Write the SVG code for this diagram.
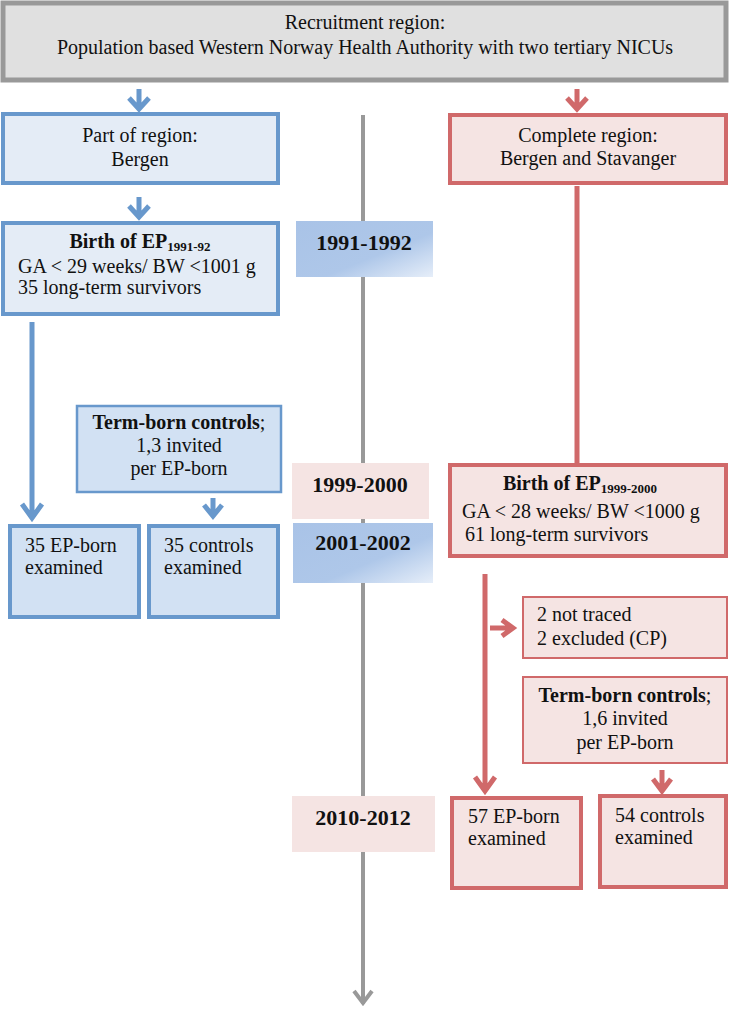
<svg xmlns="http://www.w3.org/2000/svg" width="730" height="1015" viewBox="0 0 730 1015" font-family="Liberation Serif, Times New Roman, serif">
<defs>
<linearGradient id="gb" x1="0" y1="0" x2="1" y2="1">
<stop offset="0" stop-color="#a9c3e7"/>
<stop offset="0.6" stop-color="#aec7e9"/>
<stop offset="1" stop-color="#e6eef9"/>
</linearGradient>
<style>
text{font-size:20px;fill:#111}
.c{text-anchor:middle}
.b{font-weight:bold}
.y{font-weight:bold;font-size:22px;text-anchor:middle}
.bl{fill:#e4ecf6;stroke:#6898cc;stroke-width:4}
.bl2{fill:#d2e1f3;stroke:#6898cc;stroke-width:4}
.bl3{fill:#d2e1f3;stroke:#6898cc;stroke-width:2.5}
.rd{fill:#f5e4e3;stroke:#d0696a;stroke-width:4}
.rd2{fill:#f5e4e3;stroke:#d0696a;stroke-width:2}
.ab{fill:none;stroke:#6898cc;stroke-width:5}
.ar{fill:none;stroke:#d0696a;stroke-width:5}
.ag{fill:none;stroke:#999;stroke-width:4}
.yb{fill:url(#gb)}
.yp{fill:#f5e4e3}
.sub{font-size:13px;font-weight:bold}
</style>
</defs>
<g id="connectors">
<path class="ag" d="M363 115 V1004 M354 991 L363 1003 L372 991"/>
<path class="ab" d="M139 89 V109 M129 98 L139 109 L149 98"/>
<path class="ar" d="M577 89 V109 M567 98 L577 109 L587 98"/>
<path class="ab" d="M139 197 V217 M129 206 L139 217 L149 206"/>
<path class="ar" d="M577 186 V478 M567 466 L577 478 L587 466"/>
<path class="ab" d="M32 322 V518 M22 504 L32 518 L42 504"/>
<path class="ab" d="M213 498 V516 M204 505 L213 516 L222 505"/>
<path class="ar" d="M485 574 V791 M475 777 L485 791 L495 777"/>
<path class="ar" d="M490 628 H512 M502 620 L513 628 L502 636"/>
<path class="ar" d="M662 770 V791 M653 779 L662 791 L671 779"/>
</g>
<g id="recruitment">
<rect x="3" y="3" width="723" height="77" fill="#e0e0e0" stroke="#999" stroke-width="5"/>
<text class="c" x="365" y="29">Recruitment region:</text>
<text class="c" x="365" y="54">Population based Western Norway Health Authority with two tertiary NICUs</text>
</g>
<g id="part-region">
<rect class="bl" x="3" y="114" width="275" height="69"/>
<text class="c" x="140" y="142">Part of region:</text>
<text class="c" x="140" y="166">Bergen</text>
</g>
<g id="complete-region">
<rect class="rd" x="450" y="115" width="276" height="68"/>
<text class="c" x="588" y="142">Complete region:</text>
<text class="c" x="588" y="165">Bergen and Stavanger</text>
</g>
<g id="birth-9192">
<rect class="bl" x="3" y="223" width="275" height="91"/>
<text class="c" x="140" y="248"><tspan class="b">Birth of EP</tspan><tspan class="sub" dy="3">1991-92</tspan></text>
<text x="18" y="273">GA &lt; 29 weeks/ BW &lt;1001 g</text>
<text x="18" y="294">35 long-term survivors</text>
</g>
<g id="y1991">
<rect class="yb" x="296" y="221" width="137" height="56"/>
<text class="y" x="364" y="250">1991-1992</text>
</g>
<g id="controls-left">
<rect class="bl3" x="77" y="406" width="204" height="86"/>
<text class="c b" x="179" y="429">Term-born controls<tspan font-weight="normal">;</tspan></text>
<text class="c" x="179" y="452">1,3 invited</text>
<text class="c" x="179" y="475">per EP-born</text>
</g>
<g id="ep-left">
<rect class="bl2" x="10" y="526" width="129" height="91"/>
<text x="25" y="552">35 EP-born</text>
<text x="25" y="574">examined</text>
</g>
<g id="ctrl-left">
<rect class="bl2" x="149" y="526" width="129" height="91"/>
<text x="164" y="552">35 controls</text>
<text x="164" y="574">examined</text>
</g>
<g id="y1999">
<rect class="yp" x="292" y="463" width="137" height="56"/>
<text class="y" x="360" y="492">1999-2000</text>
</g>
<g id="y2001">
<rect class="yb" x="293" y="523" width="140" height="60"/>
<text class="y" x="363" y="550">2001-2002</text>
</g>
<g id="birth-9900">
<rect class="rd" x="450" y="465" width="276" height="91"/>
<text class="c" x="580" y="490"><tspan class="b">Birth of EP</tspan><tspan class="sub" dy="3">1999-2000</tspan></text>
<text x="462" y="518">GA &lt; 28 weeks/ BW  &lt;1000 g</text>
<text x="465" y="541">61 long-term survivors</text>
</g>
<g id="excluded">
<rect class="rd2" x="523" y="597" width="204" height="61"/>
<text x="537" y="621">2 not traced</text>
<text x="537" y="645">2 excluded (CP)</text>
</g>
<g id="controls-right">
<rect class="rd2" x="523" y="677" width="204" height="86"/>
<text class="c b" x="625" y="702">Term-born controls<tspan font-weight="normal">;</tspan></text>
<text class="c" x="625" y="725">1,6 invited</text>
<text class="c" x="625" y="749">per EP-born</text>
</g>
<g id="y2010">
<rect class="yp" x="292" y="796" width="143" height="56"/>
<text class="y" x="363" y="825">2010-2012</text>
</g>
<g id="ep-right">
<rect class="rd" x="452" y="798" width="129" height="90"/>
<text x="468" y="823">57 EP-born</text>
<text x="468" y="845">examined</text>
</g>
<g id="ctrl-right">
<rect class="rd" x="600" y="796" width="126" height="91"/>
<text x="615" y="822">54 controls</text>
<text x="615" y="844">examined</text>
</g>
</svg>
